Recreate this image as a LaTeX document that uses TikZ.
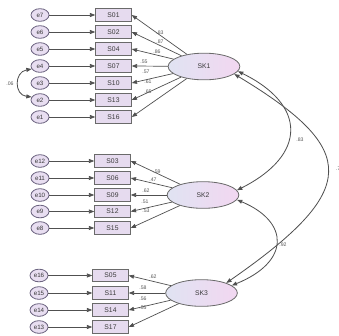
\documentclass[tikz,border=0pt]{standalone}
\usepackage{fontspec}
\setmainfont{Liberation Sans}
\usetikzlibrary{arrows.meta,shapes.geometric}
\definecolor{linec}{HTML}{505050}
\definecolor{errfill}{HTML}{E8DEF1}
\definecolor{errline}{HTML}{6C6480}
\definecolor{boxfill}{HTML}{E6DBEF}
\definecolor{boxline}{HTML}{6A6A6A}
\definecolor{latleft}{HTML}{E0E3F2}
\definecolor{latright}{HTML}{F2D7F1}
\definecolor{txt}{HTML}{3A3A3A}
\definecolor{labc}{HTML}{555555}
\begin{document}
\begin{tikzpicture}[x=0.03cm,y=-0.03cm,
  err/.style={ellipse, draw=errline, fill=errfill, minimum width=0.54cm, minimum height=0.38cm, inner sep=0pt, line width=0.7pt, font=\fontsize{5.3}{6}\selectfont, text=txt},
  obs/.style={rectangle, draw=boxline, fill=boxfill, minimum width=1.07cm, minimum height=0.38cm, inner sep=0pt, line width=0.7pt, font=\fontsize{5.8}{6}\selectfont, text=txt},
  lat/.style={ellipse, draw=boxline, left color=latleft, right color=latright, minimum width=2.15cm, minimum height=0.8cm, inner sep=0pt, line width=0.7pt, font=\fontsize{5.8}{6}\selectfont, text=txt},
  arr/.style={draw=linec, line width=0.6pt, -{Triangle[length=4.5pt,width=3.4pt]}},
  cov/.style={draw=linec, line width=0.7pt, {Triangle[length=4.5pt,width=3.4pt]}-{Triangle[length=4.5pt,width=3.4pt]}},
  lab/.style={font=\fontsize{4.4}{5}\selectfont, text=labc, inner sep=0pt}]
\useasboundingbox (0,0) rectangle (339,335);

% ---- factor 1
\node[lat] (SK1) at (204,66.5) {SK1};
\foreach \e/\s/\y in {e7/S01/15, e6/S02/32, e5/S04/49, e4/S07/66, e3/S10/83, e2/S13/100, e1/S16/117}{
  \node[err] (\e) at (40,\y) {\e};
  \node[obs] (\s) at (113.5,\y) {\s};
  \draw[arr] (\e) -- (\s);
  \draw[arr] (SK1) -- (\s.east);
}
% ---- factor 2
\node[lat] (SK2) at (203,195) {SK2};
\foreach \e/\s/\y in {e12/S03/161, e11/S06/178, e10/S09/195, e9/S12/211.5, e8/S15/228}{
  \node[err] (\e) at (40,\y) {\e};
  \node[obs] (\s) at (112.5,\y) {\s};
  \draw[arr] (\e) -- (\s);
  \draw[arr] (SK2) -- (\s.east);
}
% ---- factor 3
\node[lat] (SK3) at (201.5,293) {SK3};
\foreach \e/\s/\y in {e16/S05/275.5, e15/S11/293, e14/S14/310, e13/S17/327}{
  \node[err] (\e) at (39,\y) {\e};
  \node[obs] (\s) at (110.5,\y) {\s};
  \draw[arr] (\e) -- (\s);
  \draw[arr] (SK3) -- (\s.east);
}

% ---- loading labels
\node[lab] at (160,33) {.83};
\node[lab] at (160,42) {.87};
\node[lab] at (157,52) {.86};
\node[lab] at (144,62) {.55};
\node[lab] at (146,72) {.57};
\node[lab] at (148,82) {.61};
\node[lab] at (148,92) {.65};

\node[lab] at (157,172) {.59};
\node[lab] at (153,180) {.47};
\node[lab] at (146,191) {.62};
\node[lab] at (145,202) {.51};
\node[lab] at (146,211) {.53};

\node[lab] at (153,277) {.62};
\node[lab] at (143,288) {.58};
\node[lab] at (143,299) {.56};
\node[lab] at (143,308) {.55};

% ---- covariances
\draw[cov] (e4.200) .. controls (14,72) and (14,95) .. (e2.160);
\node[lab] at (10,84) {.06};

\draw[cov] (SK1.-8) .. controls (307,105) and (307,155) .. (SK2.8);
\node[lab] at (300,140) {.83};

\draw[cov] (SK2.-8) .. controls (290,222) and (290,262) .. (SK3.14);
\node[lab] at (283,245) {.92};

\draw[cov] (SK1.-14) .. controls (360,150) and (360,190) .. (SK3.22);
\node[lab, anchor=west] at (336,169) {.7};
\end{tikzpicture}
\end{document}
